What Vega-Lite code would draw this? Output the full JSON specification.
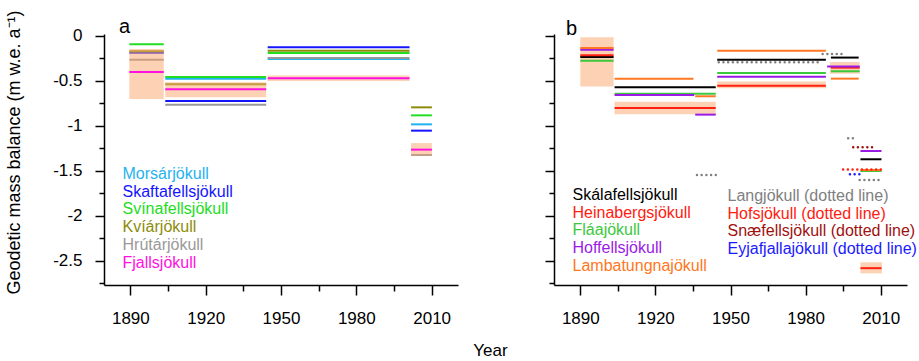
{
  "$schema": "https://vega.github.io/schema/vega-lite/v6.json",
  "padding": {"left": 5, "top": 9, "right": 5, "bottom": 5},
  "bounds": "flush",
  "spacing": 96,
  "config": {
    "font": "Liberation Sans",
    "view": {"stroke": null},
    "axis": {"domainColor": "#000", "domainWidth": 1.5, "tickColor": "#000", "tickWidth": 1.5, "labelFont": "Liberation Sans", "labelFontSize": 17, "labelColor": "#000", "titleFont": "Liberation Sans", "titleFontSize": 18, "titleFontWeight": "normal", "titleColor": "#000", "grid": false, "labelFlush": false, "labelOverlap": false},
    "legend": {"labelFont": "Liberation Sans", "labelFontSize": 16, "symbolSize": 0, "symbolOpacity": 0, "symbolStrokeWidth": 0, "symbolType": "circle", "labelOffset": 0, "rowPadding": 1.7, "padding": 0, "labelLimit": 400},
    "title": {"font": "Liberation Sans", "fontWeight": "normal", "color": "#000"}
  },
  "resolve": {"scale": {"color": "independent", "stroke": "independent"}, "legend": {"color": "independent", "stroke": "independent"}},
  "datasets": {
    "linesA": [
      {"glacier": "Morsárjökull", "start": 1903.9, "end": 1944.1, "mb": -0.474},
      {"glacier": "Morsárjökull", "start": 1944.7, "end": 2001.2, "mb": -0.256},
      {"glacier": "Morsárjökull", "start": 2001.8, "end": 2010.1, "mb": -0.982},
      {"glacier": "Skaftafellsjökull", "start": 1889.6, "end": 1903.3, "mb": -0.185},
      {"glacier": "Skaftafellsjökull", "start": 1903.9, "end": 1944.1, "mb": -0.722},
      {"glacier": "Skaftafellsjökull", "start": 1944.7, "end": 2001.2, "mb": -0.126},
      {"glacier": "Skaftafellsjökull", "start": 2001.8, "end": 2010.1, "mb": -1.052},
      {"glacier": "Svínafellsjökull", "start": 1889.6, "end": 1903.3, "mb": -0.092},
      {"glacier": "Svínafellsjökull", "start": 1903.9, "end": 1944.1, "mb": -0.456},
      {"glacier": "Svínafellsjökull", "start": 1944.7, "end": 2001.2, "mb": -0.189},
      {"glacier": "Svínafellsjökull", "start": 2001.8, "end": 2010.1, "mb": -0.882},
      {"glacier": "Kvíárjökull", "start": 1889.6, "end": 1903.3, "mb": -0.17},
      {"glacier": "Kvíárjökull", "start": 1903.9, "end": 1944.1, "mb": -0.537},
      {"glacier": "Kvíárjökull", "start": 1944.7, "end": 2001.2, "mb": -0.163},
      {"glacier": "Kvíárjökull", "start": 2001.8, "end": 2010.1, "mb": -0.793},
      {"glacier": "Hrútárjökull", "start": 1889.6, "end": 1903.3, "mb": -0.263},
      {"glacier": "Hrútárjökull", "start": 1903.9, "end": 1944.1, "mb": -0.763},
      {"glacier": "Hrútárjökull", "start": 1944.7, "end": 2001.2, "mb": -0.244},
      {"glacier": "Hrútárjökull", "start": 2001.8, "end": 2010.1, "mb": -1.322},
      {"glacier": "Fjallsjökull", "start": 1889.6, "end": 1903.3, "mb": -0.40},
      {"glacier": "Fjallsjökull", "start": 1903.9, "end": 1944.1, "mb": -0.593},
      {"glacier": "Fjallsjökull", "start": 1944.7, "end": 2001.2, "mb": -0.47},
      {"glacier": "Fjallsjökull", "start": 2001.8, "end": 2010.1, "mb": -1.263}
    ],
    "rectsA": [
      {"start": 1889.6, "end": 1903.3, "mb": -0.144, "mb2": -0.70},
      {"start": 1903.9, "end": 1944.1, "mb": -0.515, "mb2": -0.68},
      {"start": 1944.7, "end": 2001.2, "mb": -0.44, "mb2": -0.50},
      {"start": 2001.8, "end": 2010.1, "mb": -1.19, "mb2": -1.33}
    ],
    "linesB": [
      {"glacier": "Skálafellsjökull", "start": 1890, "end": 1903.3, "mb": -0.233},
      {"glacier": "Skálafellsjökull", "start": 1903.7, "end": 1944.1, "mb": -0.57},
      {"glacier": "Skálafellsjökull", "start": 1944.7, "end": 1988.1, "mb": -0.263},
      {"glacier": "Skálafellsjökull", "start": 1990.1, "end": 2001.2, "mb": -0.24},
      {"glacier": "Skálafellsjökull", "start": 2001.9, "end": 2010.3, "mb": -1.37},
      {"glacier": "Heinabergsjökull", "start": 1890, "end": 1903.3, "mb": -0.215},
      {"glacier": "Heinabergsjökull", "start": 1903.7, "end": 1944.1, "mb": -0.80},
      {"glacier": "Heinabergsjökull", "start": 1944.7, "end": 1988.1, "mb": -0.552},
      {"glacier": "Heinabergsjökull", "start": 1990.1, "end": 2001.6, "mb": -0.352},
      {"glacier": "Heinabergsjökull", "start": 2001.9, "end": 2010.3, "mb": -2.58},
      {"glacier": "Fláajökull", "start": 1890, "end": 1903.3, "mb": -0.274},
      {"glacier": "Fláajökull", "start": 1903.7, "end": 1944.1, "mb": -0.641},
      {"glacier": "Fláajökull", "start": 1944.7, "end": 1988.1, "mb": -0.41},
      {"glacier": "Fláajökull", "start": 1990.1, "end": 2001.6, "mb": -0.392},
      {"glacier": "Fláajökull", "start": 2001.9, "end": 2010.3, "mb": -1.50},
      {"glacier": "Hoffellsjökull", "start": 1890, "end": 1903.3, "mb": -0.152},
      {"glacier": "Hoffellsjökull", "start": 1903.7, "end": 1935.5, "mb": -0.656},
      {"glacier": "Hoffellsjökull", "start": 1935.9, "end": 1944.1, "mb": -0.874},
      {"glacier": "Hoffellsjökull", "start": 1944.7, "end": 1988.1, "mb": -0.452},
      {"glacier": "Hoffellsjökull", "start": 1988.6, "end": 2001.6, "mb": -0.34},
      {"glacier": "Hoffellsjökull", "start": 2001.9, "end": 2010.3, "mb": -1.278},
      {"glacier": "Lambatungnajökull", "start": 1890, "end": 1903.3, "mb": -0.133},
      {"glacier": "Lambatungnajökull", "start": 1903.7, "end": 1935.2, "mb": -0.474},
      {"glacier": "Lambatungnajökull", "start": 1935.9, "end": 1944.1, "mb": -0.67},
      {"glacier": "Lambatungnajökull", "start": 1944.7, "end": 1988.1, "mb": -0.163},
      {"glacier": "Lambatungnajökull", "start": 1990.1, "end": 2001.2, "mb": -0.474},
      {"glacier": "Lambatungnajökull", "start": 2001.9, "end": 2010.3, "mb": -1.49}
    ],
    "dottedB": [
      {"glacier": "Langjökull (dotted line)", "start": 1936.6, "end": 1945.2, "mb": -1.544},
      {"glacier": "Langjökull (dotted line)", "start": 1945.3, "end": 1985.8, "mb": -0.293},
      {"glacier": "Langjökull (dotted line)", "start": 1986.8, "end": 1995.5, "mb": -0.20},
      {"glacier": "Langjökull (dotted line)", "start": 1997.0, "end": 2000.7, "mb": -1.137},
      {"glacier": "Langjökull (dotted line)", "start": 2001.6, "end": 2010.3, "mb": -1.60},
      {"glacier": "Hofsjökull (dotted line)", "start": 1995.0, "end": 2010.3, "mb": -1.484},
      {"glacier": "Snæfellsjökull (dotted line)", "start": 1999.0, "end": 2006.9, "mb": -1.237},
      {"glacier": "Eyjafjallajökull (dotted line)", "start": 1997.7, "end": 2003.0, "mb": -1.537}
    ],
    "rectsB": [
      {"start": 1890, "end": 1903.3, "mb": -0.015, "mb2": -0.56},
      {"start": 1903.7, "end": 1944.1, "mb": -0.73, "mb2": -0.87},
      {"start": 1944.7, "end": 1988.1, "mb": -0.507, "mb2": -0.581},
      {"start": 1989.7, "end": 2001.6, "mb": -0.289, "mb2": -0.419},
      {"start": 2001.9, "end": 2010.5, "mb": -2.515, "mb2": -2.637}
    ]
  },
  "hconcat": [
    {
      "width": 354,
      "height": 251,
      "title": {"text": "a", "anchor": "start", "frame": "group", "fontSize": 20, "dx": 15, "offset": -43, "baseline": "alphabetic"},
      "encoding": {
        "x": {"field": "start", "type": "quantitative", "scale": {"domain": [1879.5, 2020.5], "nice": false, "zero": false},
          "axis": {"values": [1890, 1905, 1920, 1935, 1950, 1965, 1980, 1995, 2010], "labelExpr": "datum.value % 30 == 0 ? '' + datum.value : ''", "tickSize": {"condition": {"test": "datum.value % 30 == 0", "value": 10}, "value": 6}, "labelPadding": 15, "title": "Year", "titleX": 386, "titleY": 70, "titleBaseline": "alphabetic", "titleFontSize": 17}},
        "x2": {"field": "end"},
        "y": {"field": "mb", "type": "quantitative", "scale": {"domain": [-2.767, 0.022], "nice": false, "zero": false},
          "axis": {"values": [0, -0.25, -0.5, -0.75, -1, -1.25, -1.5, -1.75, -2, -2.25, -2.5, -2.75], "labelExpr": "datum.value % 0.5 == 0 ? '' + datum.value : ''", "tickSize": {"condition": {"test": "datum.value % 0.5 == 0", "value": 9}, "value": 5}, "labelPadding": 13, "title": "Geodetic mass balance (m w.e. a⁻¹)", "titlePadding": 29, "titleY": 118}}
      },
      "layer": [
        {
          "data": {"name": "linesA"},
          "transform": [{"filter": "datum.glacier != 'Fjallsjökull'"}],
          "mark": {"type": "rule", "strokeWidth": 2},
          "encoding": {
            "color": {"field": "glacier", "type": "nominal",
              "scale": {"domain": ["Morsárjökull", "Skaftafellsjökull", "Svínafellsjökull", "Kvíárjökull", "Hrútárjökull", "Fjallsjökull"], "range": ["#1fb2f0", "#1414ff", "#22dd22", "#8c8c0a", "#999999", "#ff10e0"]},
              "legend": {"title": null, "orient": "none", "legendX": 2.5, "legendY": 132, "labelColor": {"expr": "({'Morsárjökull':'#1fb2f0','Skaftafellsjökull':'#1414ff','Svínafellsjökull':'#22dd22','Kvíárjökull':'#8c8c0a','Hrútárjökull':'#999999','Fjallsjökull':'#ff10e0'})[datum.value]"}}}
          }
        },
        {
          "data": {"name": "rectsA"},
          "mark": {"type": "rect", "fill": "#fba569", "opacity": 0.5},
          "encoding": {"y2": {"field": "mb2"}}
        },
        {
          "data": {"name": "linesA"},
          "transform": [{"filter": "datum.glacier == 'Fjallsjökull'"}],
          "mark": {"type": "rule", "strokeWidth": 2},
          "encoding": {
            "color": {"field": "glacier", "type": "nominal",
              "scale": {"domain": ["Morsárjökull", "Skaftafellsjökull", "Svínafellsjökull", "Kvíárjökull", "Hrútárjökull", "Fjallsjökull"], "range": ["#1fb2f0", "#1414ff", "#22dd22", "#8c8c0a", "#999999", "#ff10e0"]},
              "legend": {"title": null, "orient": "none", "legendX": 2.5, "legendY": 132, "labelColor": {"expr": "({'Morsárjökull':'#1fb2f0','Skaftafellsjökull':'#1414ff','Svínafellsjökull':'#22dd22','Kvíárjökull':'#8c8c0a','Hrútárjökull':'#999999','Fjallsjökull':'#ff10e0'})[datum.value]"}}}
          }
        }
      ]
    },
    {
      "width": 353,
      "height": 251,
      "title": {"text": "b", "anchor": "start", "frame": "group", "fontSize": 20, "dx": 12, "offset": -21, "baseline": "alphabetic"},
      "encoding": {
        "x": {"field": "start", "type": "quantitative", "scale": {"domain": [1879.5, 2020.5], "nice": false, "zero": false},
          "axis": {"values": [1890, 1905, 1920, 1935, 1950, 1965, 1980, 1995, 2010], "labelExpr": "datum.value % 30 == 0 ? '' + datum.value : ''", "tickSize": {"condition": {"test": "datum.value % 30 == 0", "value": 10}, "value": 6}, "labelPadding": 15, "title": null}},
        "x2": {"field": "end"},
        "y": {"field": "mb", "type": "quantitative", "scale": {"domain": [-2.767, 0.022], "nice": false, "zero": false},
          "axis": {"values": [0, -0.25, -0.5, -0.75, -1, -1.25, -1.5, -1.75, -2, -2.25, -2.5, -2.75], "labels": false, "tickSize": {"condition": {"test": "datum.value % 0.5 == 0", "value": 9}, "value": 5}, "title": null}}
      },
      "layer": [
        {
          "data": {"name": "rectsB"},
          "mark": {"type": "rect", "fill": "#fba569", "opacity": 0.5},
          "encoding": {"y2": {"field": "mb2"}}
        },
        {
          "data": {"name": "linesB"},
          "mark": {"type": "rule", "strokeWidth": 2},
          "encoding": {
            "color": {"field": "glacier", "type": "nominal",
              "scale": {"domain": ["Skálafellsjökull", "Heinabergsjökull", "Fláajökull", "Hoffellsjökull", "Lambatungnajökull"], "range": ["#000000", "#ff2010", "#3cc83c", "#9b1ae6", "#ff7722"]},
              "legend": {"title": null, "orient": "none", "legendX": 2.5, "legendY": 153, "labelColor": {"expr": "({'Skálafellsjökull':'#000000','Heinabergsjökull':'#ff2010','Fláajökull':'#3cc83c','Hoffellsjökull':'#9b1ae6','Lambatungnajökull':'#ff7722'})[datum.value]"}}}
          }
        },
        {
          "data": {"name": "dottedB"},
          "mark": {"type": "rule", "strokeWidth": 2.5, "strokeDash": [0.01, 4.7], "strokeCap": "round"},
          "encoding": {
            "stroke": {"field": "glacier", "type": "nominal",
              "scale": {"domain": ["Langjökull (dotted line)", "Hofsjökull (dotted line)", "Snæfellsjökull (dotted line)", "Eyjafjallajökull (dotted line)"], "range": ["#808080", "#ff2010", "#a01010", "#1a1aff"]},
              "legend": {"title": null, "orient": "none", "legendX": 157.5, "legendY": 154, "labelColor": {"expr": "({'Langjökull (dotted line)':'#808080','Hofsjökull (dotted line)':'#ff2010','Snæfellsjökull (dotted line)':'#a01010','Eyjafjallajökull (dotted line)':'#1a1aff'})[datum.value]"}}}
          }
        }
      ]
    }
  ]
}
